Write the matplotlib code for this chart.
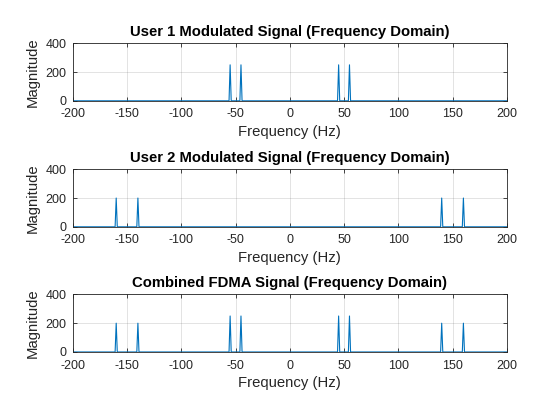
import numpy as np
import matplotlib
matplotlib.use("Agg")
import matplotlib.pyplot as plt

plt.rcParams["font.family"] = ["Liberation Sans", "DejaVu Sans"]
plt.rcParams["axes.unicode_minus"] = False

# spike positions (Hz) and peak magnitudes
user1_freqs = [-55, -45, 45, 55]
user1_mags = [250, 250, 250, 250]
user2_freqs = [-160, -140, 140, 160]
user2_mags = [200, 200, 200, 200]
combined_freqs = user2_freqs[:2] + user1_freqs + user2_freqs[2:]
combined_mags = user2_mags[:2] + user1_mags + user2_mags[2:]

titles = ["User 1 Modulated Signal (Frequency Domain)",
          "User 2 Modulated Signal (Frequency Domain)",
          "Combined FDMA Signal (Frequency Domain)"]
xticks = [-200, -150, -100, -50, 0, 50, 100, 150, 200]
yticks = [0, 200, 400]
freq_step = 1.0  # FFT bin width, Hz


def spectrum_line(freqs, mags):
    # sparse spectrum: zero everywhere except single bins
    xs, ys = [xticks[0]], [0]
    for f, m in sorted(zip(freqs, mags)):
        xs += [f - freq_step, f, f + freq_step]
        ys += [0, m, 0]
    xs.append(xticks[-1]); ys.append(0)
    return xs, ys


fig = plt.figure(figsize=(5.6, 4.2), dpi=100)
bottoms = [0.760, 0.460, 0.162]
data = [(user1_freqs, user1_mags), (user2_freqs, user2_mags),
        (combined_freqs, combined_mags)]
txt = "#262626"

for b, title, (fr, mg) in zip(bottoms, titles, data):
    ax = fig.add_axes([0.13, b, 0.775, 0.137])
    xs, ys = spectrum_line(fr, mg)
    ax.plot(xs, ys, color="#0072BD", linewidth=0.8)
    ax.set_xlim(-200, 200)
    ax.set_ylim(0, 400)
    ax.set_xticks(xticks)
    ax.set_yticks(yticks)
    ax.grid(True, color="#262626", alpha=0.15, linewidth=0.6)
    ax.tick_params(direction="in", length=3, width=0.6, colors=txt,
                   labelsize=9, top=True, right=True)
    ax.tick_params(axis="x", pad=5.5)
    ax.tick_params(axis="y", pad=4.5)
    for s in ax.spines.values():
        s.set_color(txt)
        s.set_linewidth(0.6)
    ax.set_title(title, fontsize=10.7, fontweight="bold", color="black", pad=5)
    ax.set_xlabel("Frequency (Hz)", fontsize=10.7, color=txt, labelpad=3.3)
    ax.set_ylabel("Magnitude", fontsize=10.7, color=txt, labelpad=4)

fig.savefig("out.png", dpi=100)
